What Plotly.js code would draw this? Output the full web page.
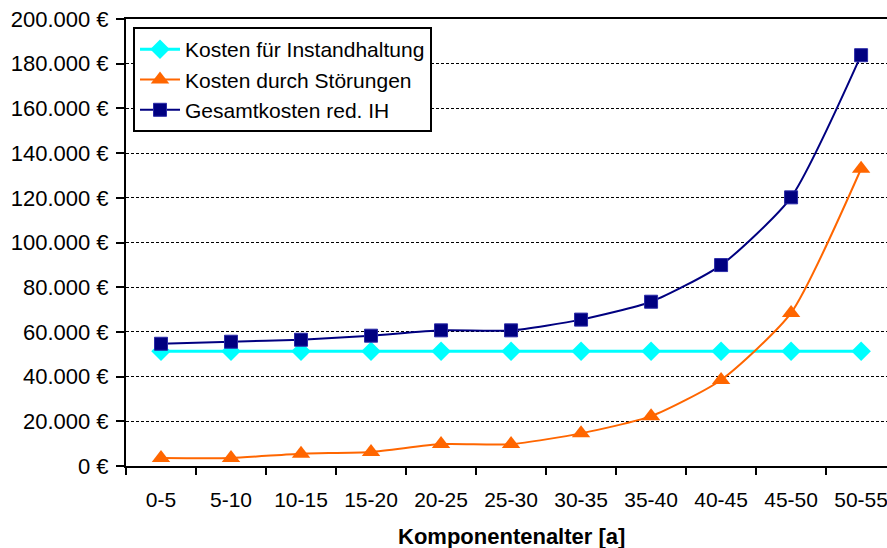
<!DOCTYPE html>
<html>
<head>
<meta charset="utf-8">
<script src="https://cdn.plot.ly/plotly-3.0.1.min.js"></script>
<style>html,body{margin:0;padding:0;background:#fff;}#chart{width:887px;height:548px;}</style>
</head>
<body>
<div id="chart"></div>
<script>
const categories = ["0-5","5-10","10-15","15-20","20-25","25-30","30-35","35-40","40-45","45-50","50-55"];
const kostenInstandhaltung = [51300,51300,51300,51300,51300,51300,51300,51300,51300,51300,51300];
const kostenStoerungen = [3600,3600,5500,6300,9800,9800,14600,22300,38500,68500,133000];
const gesamtkosten = [54700,55600,56500,58300,60700,60700,65500,73500,89900,120200,183800];
const seriesNames = ["Kosten für Instandhaltung","Kosten durch Störungen","Gesamtkosten red. IH"];
const xTitle = "Komponentenalter [a]";

const font = "Arial, 'Liberation Sans', sans-serif";
const traces = [
  {x: categories, y: kostenInstandhaltung, name: seriesNames[0], type: 'scatter', mode: 'lines+markers',
   legendgroup: 'a',
   line: {color: '#00FFFF', width: 3, shape: 'spline', smoothing: 0.6},
   marker: {symbol: 'diamond', size: 15, color: '#00FFFF'}},
  {x: categories, y: kostenStoerungen, name: seriesNames[1], type: 'scatter', mode: 'lines+markers',
   legendgroup: 'b',
   line: {color: '#FF6600', width: 2, shape: 'spline', smoothing: 0.6},
   marker: {symbol: 'triangle-up', size: 16, color: '#FF6600'}},
  {x: categories, y: gesamtkosten, name: seriesNames[2], type: 'scatter', mode: 'lines+markers',
   legendgroup: 'c',
   line: {color: '#000080', width: 2, shape: 'spline', smoothing: 0.6},
   marker: {symbol: 'square', size: 13, color: '#000080', line: {color: '#2a2aa8', width: 1}}}
];

const layout = {
  width: 887, height: 548,
  margin: {l: 126, r: 0, t: 19, b: 82, pad: 0},
  paper_bgcolor: '#ffffff', plot_bgcolor: '#ffffff',
  separators: ',.',
  font: {family: font, size: 21, color: '#000000'},
  showlegend: true,
  legend: {
    x: 0.0092, y: 0.982, xanchor: 'left', yanchor: 'top',
    bgcolor: '#ffffff', bordercolor: '#000000', borderwidth: 2,
    font: {family: font, size: 21, color: '#000000'},
    traceorder: 'grouped', tracegroupgap: 0, itemwidth: 40
  },
  xaxis: {
    type: 'category', range: [-0.5, 10.37], fixedrange: true,
    showline: true, linecolor: '#000000', linewidth: 2, mirror: true,
    ticks: 'outside', tickson: 'boundaries', ticklen: 7, tickwidth: 2, tickcolor: '#000000',
    tickfont: {family: font, size: 21, color: '#000000'},
    ticklabelstandoff: 14,
    showgrid: false, zeroline: false
  },
  yaxis: {
    range: [0, 200000], dtick: 20000, tick0: 0, fixedrange: true,
    tickformat: ',d', ticksuffix: ' €',
    showline: true, linecolor: '#000000', linewidth: 2,
    ticks: 'outside', ticklen: 8, tickwidth: 2, tickcolor: '#000000',
    tickfont: {family: font, size: 22, color: '#000000'},
    ticklabelstandoff: 3,
    showgrid: true, gridcolor: '#000000', gridwidth: 1, griddash: '3px,2px',
    zeroline: false
  },
  annotations: [{
    text: '<b>' + xTitle + '</b>', xref: 'paper', yref: 'paper',
    x: 0.506, y: -0.158, xanchor: 'center', yanchor: 'middle', showarrow: false,
    font: {family: font, size: 22, color: '#000000'}
  }]
};

Plotly.newPlot('chart', traces, layout, {staticPlot: true, displayModeBar: false});
</script>
</body>
</html>
